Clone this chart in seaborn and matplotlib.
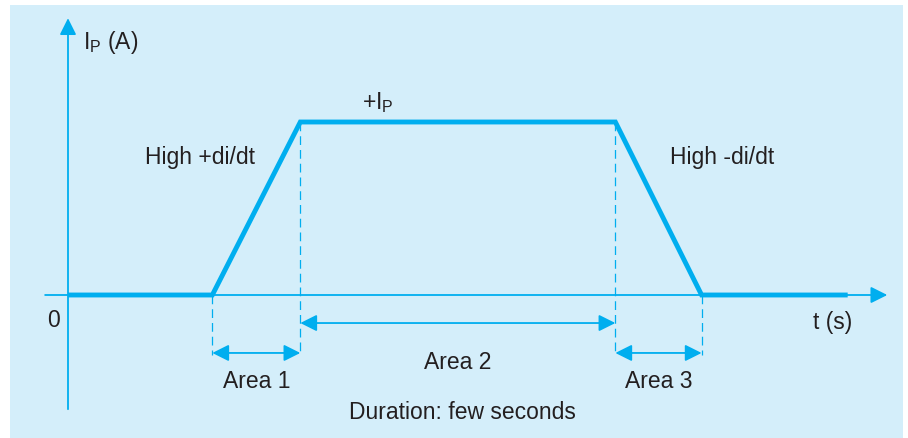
import numpy as np
import pandas as pd
import matplotlib
matplotlib.use("Agg")
import matplotlib.pyplot as plt
from matplotlib.patches import Rectangle
import seaborn as sns

# pulse current profile (time in arbitrary units, current normalised to +Ip)
t_knots = [0, 1.64, 2.64, 6.22, 7.2, 8.86]
current = [0, 0, 1, 1, 0, 0]
area_labels = ["Area 1", "Area 2", "Area 3"]
slope_labels = ["High +di/dt", "High -di/dt"]

cyan = "#00aeef"
bg = "#d4eefa"
ink = "#231f20"
fs = 16.5

sns.set_style("white")
plt.rcParams["font.family"] = ["Liberation Sans", "DejaVu Sans"]
plt.rcParams["mathtext.fontset"] = "custom"
plt.rcParams["mathtext.rm"] = "Liberation Sans"

df = pd.DataFrame({"t": t_knots, "I": current})

fig = plt.figure(figsize=(9.08, 4.39), dpi=100)
ax = fig.add_axes([0, 0, 1, 1])
ax.set_xlim(-68 / 88, 840 / 88)
ax.set_ylim(-143 / 173, 296 / 173)
ax.axis("off")

# light blue panel
ax.add_patch(Rectangle((10 / 908, 0), 893 / 908, 433 / 439, transform=ax.transAxes,
                       facecolor=bg, edgecolor="none", zorder=0))

arrow_kw = dict(color=cyan, lw=1.3, mutation_scale=25, shrinkA=0, shrinkB=0)

# axes with arrow heads
ax.annotate("", xy=(0, 1.60), xytext=(0, -0.66), arrowprops=dict(arrowstyle="-|>", **arrow_kw))
ax.annotate("", xy=(9.31, 0), xytext=(-0.26, 0), arrowprops=dict(arrowstyle="-|>", **arrow_kw))

# the pulse itself
sns.lineplot(data=df, x="t", y="I", ax=ax, color=cyan, linewidth=3.5,
             solid_joinstyle="miter", solid_capstyle="butt", zorder=3)

# dashed markers below each corner
y_low = -0.345
for tk, ik in zip(t_knots[1:5], current[1:5]):
    ax.plot([tk, tk], [ik, y_low], color=cyan, lw=0.9, dashes=(7, 4), zorder=2)

# double arrows for each area
y_arrow = [-0.335, -0.162, -0.335]
spans = [(t_knots[1], t_knots[2]), (t_knots[2], t_knots[3]), (t_knots[3], t_knots[4])]
for (a, b), ya in zip(spans, y_arrow):
    ax.annotate("", xy=(b, ya), xytext=(a, ya), arrowprops=dict(arrowstyle="<|-|>", **arrow_kw))

y_text = [-0.497, -0.387, -0.497]
for lab, (a, b), yt in zip(area_labels, spans, y_text):
    ax.text((a + b) / 2, yt, lab, ha="center", va="center", fontsize=fs, color=ink)

ax.text((t_knots[0] + t_knots[-1]) / 2 + 0.05, -0.675, "Duration: few seconds",
        ha="center", va="center", fontsize=fs, color=ink)

ax.text(1.5, 0.80, slope_labels[0], ha="center", va="center", fontsize=fs, color=ink)
ax.text(7.43, 0.80, slope_labels[1], ha="center", va="center", fontsize=fs, color=ink)
ax.text(3.52, 1.116, r"+I$_\mathregular{P}$", ha="center", va="center", fontsize=fs, color=ink)
ax.text(0.17, 1.468, r"I$_\mathregular{P}$ (A)", ha="left", va="center", fontsize=fs, color=ink)
ax.text(8.69, -0.156, "t (s)", ha="center", va="center", fontsize=fs, color=ink)
ax.text(-0.17, -0.139, "0", ha="center", va="center", fontsize=fs, color=ink)

fig.savefig("out.png", dpi=100, facecolor="white")
